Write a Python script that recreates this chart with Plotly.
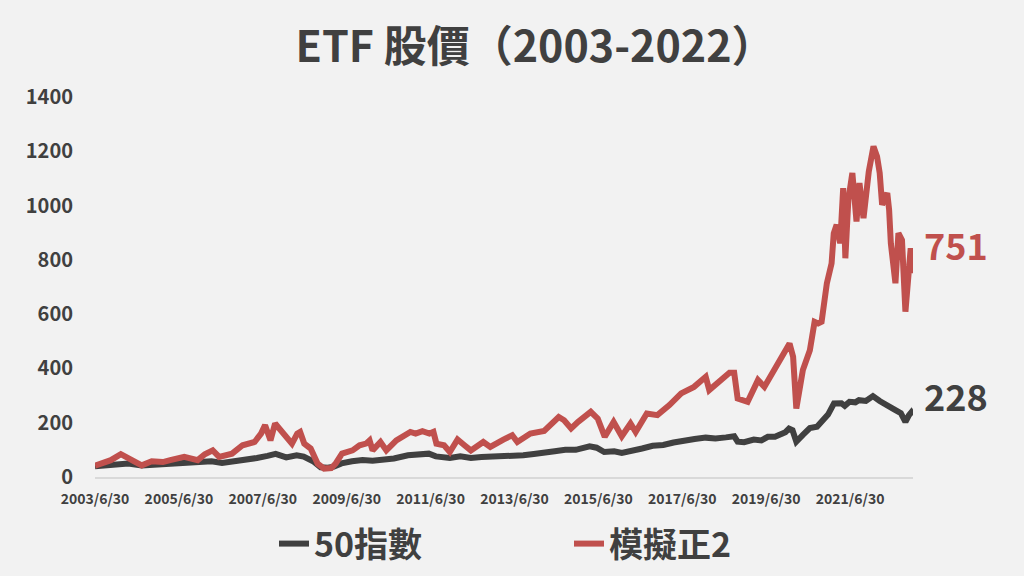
import plotly.graph_objects as go

title_text = "ETF 股價（2003-2022）"
series_names = ["50指數", "模擬正2"]

idx_dates = [
    "2003-06-30", "2003-10-15", "2004-02-10", "2004-04-15", "2004-08-10", "2004-12-10",
    "2005-04-10", "2005-08-10", "2005-12-10", "2006-04-10", "2006-07-10", "2006-11-10",
    "2007-02-10", "2007-05-10", "2007-08-10", "2007-10-20", "2008-01-20", "2008-04-20",
    "2008-06-20", "2008-09-10", "2008-11-15", "2009-01-15", "2009-03-10", "2009-05-15",
    "2009-08-15", "2009-11-15", "2010-02-10", "2010-05-15", "2010-08-15", "2010-12-15",
    "2011-03-15", "2011-06-15", "2011-08-15", "2011-12-15", "2012-03-15", "2012-06-15",
    "2012-09-15", "2012-12-15", "2013-03-15", "2013-06-15", "2013-09-15", "2013-12-15",
    "2014-03-15", "2014-06-15", "2014-09-15", "2014-12-15", "2015-04-15", "2015-06-15",
    "2015-08-20", "2015-11-15", "2016-01-20", "2016-04-15", "2016-07-15", "2016-10-15",
    "2017-01-15", "2017-04-15", "2017-07-15", "2017-10-15", "2018-01-20", "2018-04-15",
    "2018-07-15", "2018-09-25", "2018-10-25", "2018-12-20", "2019-03-15", "2019-05-20",
    "2019-07-15", "2019-09-15", "2019-12-15", "2020-01-15", "2020-02-15", "2020-03-19",
    "2020-05-15", "2020-07-15", "2020-09-15", "2020-11-15", "2020-12-20", "2021-02-10",
    "2021-04-15", "2021-05-15", "2021-06-25", "2021-08-15", "2021-09-15", "2021-11-15",
    "2022-01-15", "2022-03-15", "2022-05-15", "2022-07-15", "2022-09-15", "2022-10-25",
    "2022-11-25", "2022-12-15", "2022-12-30",
]
idx_values = [
    40, 45, 52, 50, 42, 45,
    45, 48, 52, 58, 52, 58,
    65, 70, 78, 85, 72, 80,
    75, 58, 36, 34, 38, 50,
    58, 63, 60, 63, 68, 80,
    84, 86, 76, 70, 76, 70,
    74, 75, 78, 77, 80, 85,
    88, 95, 100, 100, 113, 108,
    92, 95, 89, 95, 105, 115,
    118, 127, 135, 140, 145, 142,
    146, 150, 130, 128, 138, 135,
    148, 148, 165, 178, 172, 130,
    155, 180, 185, 209, 230, 271,
    272, 262, 277, 275, 283, 280,
    298, 280, 262, 250, 235, 203,
    228, 238, 228,
]

lev_dates = [
    "2003-06-30", "2003-09-10", "2003-11-15", "2004-02-10", "2004-03-20", "2004-05-10",
    "2004-08-10", "2004-11-05", "2005-02-10", "2005-04-15", "2005-08-15", "2005-12-10",
    "2006-02-10", "2006-04-20", "2006-06-15", "2006-10-05", "2007-01-05", "2007-04-20",
    "2007-06-15", "2007-07-20", "2007-09-05", "2007-10-15", "2007-11-10", "2008-01-15",
    "2008-03-10", "2008-04-25", "2008-05-20", "2008-06-25", "2008-08-20", "2008-10-20",
    "2008-12-15", "2009-02-15", "2009-03-25", "2009-05-20", "2009-08-20", "2009-10-20",
    "2009-12-15", "2010-01-15", "2010-02-10", "2010-04-20", "2010-06-10", "2010-09-05",
    "2011-01-05", "2011-02-20", "2011-04-20", "2011-06-20", "2011-07-25", "2011-08-20",
    "2011-10-25", "2011-12-15", "2012-02-20", "2012-04-20", "2012-06-15", "2012-10-01",
    "2012-12-01", "2013-03-25", "2013-06-10", "2013-07-25", "2013-11-15", "2014-03-15",
    "2014-07-20", "2014-09-05", "2014-11-05", "2015-01-05", "2015-02-20", "2015-04-25",
    "2015-06-25", "2015-08-25", "2015-11-10", "2016-01-20", "2016-04-05", "2016-05-20",
    "2016-08-25", "2016-11-25", "2017-03-10", "2017-06-20", "2017-10-10", "2018-01-20",
    "2018-02-20", "2018-06-05", "2018-08-15", "2018-09-25", "2018-10-25", "2019-01-20",
    "2019-04-20", "2019-06-15", "2019-08-25", "2019-11-20", "2020-01-20", "2020-02-20",
    "2020-03-19", "2020-05-15", "2020-07-15", "2020-08-25", "2020-09-25", "2020-10-25",
    "2020-12-10", "2021-01-20", "2021-02-08", "2021-03-05", "2021-04-05", "2021-05-01",
    "2021-05-20", "2021-06-15", "2021-07-20", "2021-08-25", "2021-09-20", "2021-10-25",
    "2021-12-10", "2022-01-20", "2022-02-20", "2022-03-15", "2022-04-05", "2022-05-20",
    "2022-06-05", "2022-06-20", "2022-07-30", "2022-08-25", "2022-09-25", "2022-10-25",
    "2022-12-10", "2022-12-30",
]
lev_values = [
    42, 50, 62, 84, 75, 62,
    43, 58, 55, 62, 74, 62,
    84, 98, 74, 86, 117, 129,
    160, 191, 135, 197, 185, 148,
    123, 160, 166, 123, 105, 49,
    31, 33, 49, 86, 98, 117,
    123, 135, 98, 129, 98, 135,
    166, 160, 169, 160, 166, 123,
    117, 92, 138, 117, 98, 129,
    111, 138, 154, 129, 160, 170,
    221, 209, 179, 203, 221, 240,
    215, 148, 203, 150, 197, 166,
    234, 228, 265, 308, 332, 369,
    320, 357, 384, 384, 289, 277,
    357, 332, 387, 455, 492, 443,
    252, 394, 467, 572, 566, 572,
    714, 787, 898, 929, 861, 1064,
    806, 1021, 1120, 941, 1083, 954,
    1126, 1218, 1181, 1120, 1003, 1046,
    985, 861, 714, 898, 873, 609,
    843, 751,
]

tick_dates = ["2003-06-30", "2005-06-30", "2007-06-30", "2009-06-30", "2011-06-30",
              "2013-06-30", "2015-06-30", "2017-06-30", "2019-06-30", "2021-06-30"]
tick_labels = ["2003/6/30", "2005/6/30", "2007/6/30", "2009/6/30", "2011/6/30",
               "2013/6/30", "2015/6/30", "2017/6/30", "2019/6/30", "2021/6/30"]
y_ticks = [0, 200, 400, 600, 800, 1000, 1200, 1400]

FONT = "Noto Sans CJK TC, Noto Sans, sans-serif"
DARK = "#404040"
RED = "#c0504d"
BG = "#f2f2f2"

fig = go.Figure()
fig.add_trace(go.Scatter(x=idx_dates, y=idx_values, mode="lines", name=series_names[0],
                         line=dict(color=DARK, width=6)))
fig.add_trace(go.Scatter(x=lev_dates, y=lev_values, mode="lines", name=series_names[1],
                         line=dict(color=RED, width=6)))

fig.add_annotation(x=lev_dates[-1], y=lev_values[-1], text=str(lev_values[-1]),
                   showarrow=False, xanchor="left", yanchor="middle", xshift=9, yshift=29,
                   font=dict(family=FONT, size=36, color=RED, weight="bold"))
fig.add_annotation(x=idx_dates[-1], y=idx_values[-1], text=str(idx_values[-1]),
                   showarrow=False, xanchor="left", yanchor="middle", xshift=9, yshift=20,
                   font=dict(family=FONT, size=36, color=DARK, weight="bold"))

fig.update_layout(
    width=1024, height=576,
    paper_bgcolor=BG, plot_bgcolor=BG,
    margin=dict(l=95, r=111, t=97, b=99, autoexpand=False),
    title=dict(text=title_text, x=535 / 1024, xanchor="center", y=1 - 47 / 576, yanchor="middle",
               font=dict(family=FONT, size=43, color=DARK, weight="bold")),
    showlegend=True,
    legend=dict(orientation="h", xref="container", x=274 / 1024, xanchor="left",
                yref="container", y=(576 - 544) / 576, yanchor="middle",
                font=dict(family=FONT, size=34, color=DARK, weight="bold"),
                entrywidth=250, entrywidthmode="pixels", bgcolor="rgba(0,0,0,0)"),
    xaxis=dict(type="date", range=["2003-06-30", "2022-12-30"], tickvals=tick_dates,
               ticktext=tick_labels, showgrid=False, zeroline=False, showline=True,
               linecolor="#d9d9d9", linewidth=1.5, ticks="outside", ticklen=8,
               tickcolor="rgba(0,0,0,0)", automargin=False,
               tickfont=dict(family=FONT, size=14, color=DARK, weight="bold")),
    yaxis=dict(range=[0, 1400], tickvals=y_ticks, showgrid=False, zeroline=False,
               showline=False, ticks="outside", ticklen=17, tickcolor="rgba(0,0,0,0)",
               automargin=False,
               tickfont=dict(family=FONT, size=20, color=DARK, weight="bold")),
)

fig.write_html("out.html", config={"displayModeBar": False},
               post_script="document.body.style.margin='0';document.body.style.overflow='hidden';")
